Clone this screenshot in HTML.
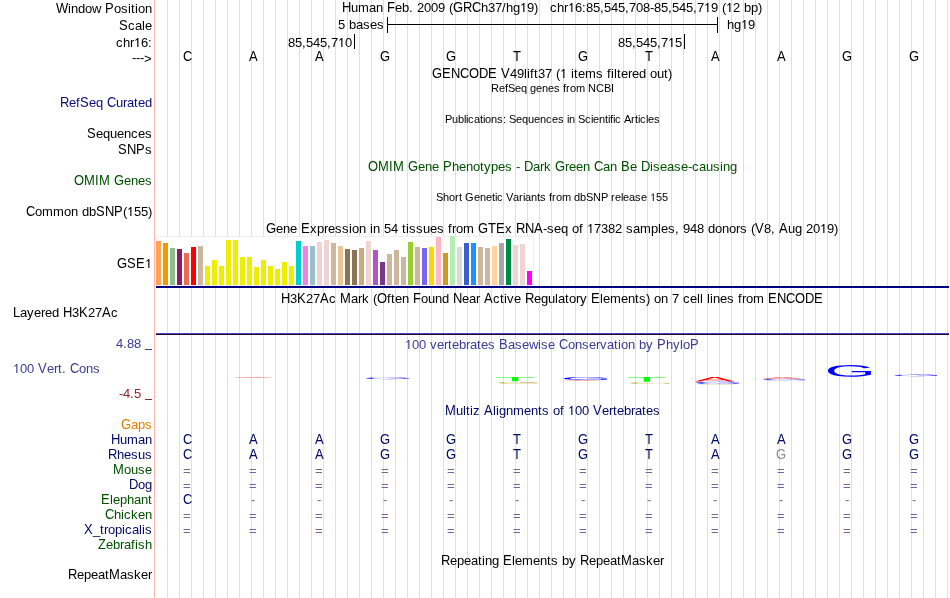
<!DOCTYPE html>
<html><head><meta charset="utf-8"><style>
html,body{margin:0;padding:0;background:#fff;width:950px;height:598px;overflow:hidden}
svg{display:block;will-change:transform}
text{font-family:"Liberation Sans",sans-serif}
</style></head><body>
<svg width="950" height="598" viewBox="0 0 950 598">
<rect width="950" height="598" fill="#fff"/>
<g fill="#dcdcff"><rect x="167" y="0" width="1" height="598"/><rect x="179" y="0" width="1" height="598"/><rect x="191" y="0" width="1" height="598"/><rect x="203" y="0" width="1" height="598"/><rect x="215" y="0" width="1" height="598"/><rect x="227" y="0" width="1" height="598"/><rect x="239" y="0" width="1" height="598"/><rect x="251" y="0" width="1" height="598"/><rect x="263" y="0" width="1" height="598"/><rect x="275" y="0" width="1" height="598"/><rect x="287" y="0" width="1" height="598"/><rect x="299" y="0" width="1" height="598"/><rect x="311" y="0" width="1" height="598"/><rect x="323" y="0" width="1" height="598"/><rect x="335" y="0" width="1" height="598"/><rect x="347" y="0" width="1" height="598"/><rect x="359" y="0" width="1" height="598"/><rect x="371" y="0" width="1" height="598"/><rect x="383" y="0" width="1" height="598"/><rect x="395" y="0" width="1" height="598"/><rect x="407" y="0" width="1" height="598"/><rect x="419" y="0" width="1" height="598"/><rect x="431" y="0" width="1" height="598"/><rect x="443" y="0" width="1" height="598"/><rect x="455" y="0" width="1" height="598"/><rect x="467" y="0" width="1" height="598"/><rect x="479" y="0" width="1" height="598"/><rect x="491" y="0" width="1" height="598"/><rect x="503" y="0" width="1" height="598"/><rect x="515" y="0" width="1" height="598"/><rect x="527" y="0" width="1" height="598"/><rect x="539" y="0" width="1" height="598"/><rect x="551" y="0" width="1" height="598"/><rect x="563" y="0" width="1" height="598"/><rect x="575" y="0" width="1" height="598"/><rect x="587" y="0" width="1" height="598"/><rect x="599" y="0" width="1" height="598"/><rect x="611" y="0" width="1" height="598"/><rect x="623" y="0" width="1" height="598"/><rect x="635" y="0" width="1" height="598"/><rect x="647" y="0" width="1" height="598"/><rect x="659" y="0" width="1" height="598"/><rect x="671" y="0" width="1" height="598"/><rect x="683" y="0" width="1" height="598"/><rect x="695" y="0" width="1" height="598"/><rect x="707" y="0" width="1" height="598"/><rect x="719" y="0" width="1" height="598"/><rect x="731" y="0" width="1" height="598"/><rect x="743" y="0" width="1" height="598"/><rect x="755" y="0" width="1" height="598"/><rect x="767" y="0" width="1" height="598"/><rect x="779" y="0" width="1" height="598"/><rect x="791" y="0" width="1" height="598"/><rect x="803" y="0" width="1" height="598"/><rect x="815" y="0" width="1" height="598"/><rect x="827" y="0" width="1" height="598"/><rect x="839" y="0" width="1" height="598"/><rect x="851" y="0" width="1" height="598"/><rect x="863" y="0" width="1" height="598"/><rect x="875" y="0" width="1" height="598"/><rect x="887" y="0" width="1" height="598"/><rect x="899" y="0" width="1" height="598"/><rect x="911" y="0" width="1" height="598"/><rect x="923" y="0" width="1" height="598"/><rect x="935" y="0" width="1" height="598"/><rect x="947" y="0" width="1" height="598"/></g>
<rect x="154" y="0" width="1" height="598" fill="#ffb4b4"/>
<text x="68 71 78 85 92 101 114 121 128 131 135 138 145" y="13" fill="#000" font-size="13">indow&#160;osition</text><text transform="scale(0.928571,1)" x="60.308 113.077" y="13" fill="#000" font-size="14">WP</text>
<text x="128 135 142 145" y="30" fill="#000" font-size="13">cale</text><text transform="scale(0.928571,1)" x="128.154" y="30" fill="#000" font-size="14">S</text>
<text x="116 123 130 141 148" y="47" fill="#000" font-size="13">chr6:</text><path transform="matrix(0.006348 0 0 -0.006348 134 47)" d="M515 0L696 0L696 1409L540 1409C470 1300 330 1180 197 1120L197 980C320 1030 440 1110 515 1190Z" fill="#000"/>
<text x="69 76 89 96 103 116 123 127 134 138 145" y="107" fill="#0c0c78" font-size="13">efeq&#160;urated</text><text transform="scale(0.928571,1)" x="64.615 86.154 115.231" y="107" fill="#0c0c78" font-size="14">RSC</text>
<text x="96 103 110 117 124 131 138 145" y="138" fill="#000" font-size="13">equences</text><text transform="scale(0.928571,1)" x="93.692" y="138" fill="#000" font-size="14">S</text>
<text x="145" y="154" fill="#000" font-size="13">s</text><text transform="scale(0.928571,1)" x="127.077 136.769 146.462" y="154" fill="#000" font-size="14">SNP</text>
<text x="110 124 131 138 145" y="185" fill="#005000" font-size="13">&#160;enes</text><text transform="scale(0.928571,1)" x="79.692 90.462 102.308 106.615 122.769" y="185" fill="#005000" font-size="14">OMIMG</text>
<text x="35 42 53 64 71 78 82 89 123 134 141 148" y="216" fill="#000" font-size="13">ommon&#160;db(55)</text><text transform="scale(0.928571,1)" x="28 103.385 113.077 122.769" y="216" fill="#000" font-size="14">CSNP</text><path transform="matrix(0.006348 0 0 -0.006348 127 216)" d="M515 0L696 0L696 1409L540 1409C470 1300 330 1180 197 1120L197 980C320 1030 440 1110 515 1190Z" fill="#000"/>
<text transform="scale(0.928571,1)" x="126 136.769 146.462" y="268" fill="#000" font-size="14">GSE</text><path transform="matrix(0.006348 0 0 -0.006348 145 268)" d="M515 0L696 0L696 1409L540 1409C470 1300 330 1180 197 1120L197 980C320 1030 440 1110 515 1190Z" fill="#000"/>
<text x="116 123 127 134 141" y="348" fill="#3c3c96" font-size="13">4.88&#160;</text>
<rect x="145" y="349" width="7" height="1" fill="#3c3c96"/>
<text x="119 123 130 134 141" y="398" fill="#8c2828" font-size="13">-4.5&#160;</text>
<rect x="145" y="399" width="7" height="1" fill="#8c2828"/>
<text x="131 138 145" y="429" fill="#e08000" font-size="13">aps</text><text transform="scale(0.928571,1)" x="130.308" y="429" fill="#e08000" font-size="14">G</text>
<text x="120 127 138 145" y="444" fill="#000a64" font-size="13">uman</text><text transform="scale(0.928571,1)" x="119.538" y="444" fill="#000a64" font-size="14">H</text>
<text x="117 124 131 138 145" y="459" fill="#000a64" font-size="13">hesus</text><text transform="scale(0.928571,1)" x="116.308" y="459" fill="#000a64" font-size="14">R</text>
<text x="124 131 138 145" y="474" fill="#005000" font-size="13">ouse</text><text transform="scale(0.928571,1)" x="121.692" y="474" fill="#005000" font-size="14">M</text>
<text x="138 145" y="489" fill="#000a64" font-size="13">og</text><text transform="scale(0.928571,1)" x="138.923" y="489" fill="#000a64" font-size="14">D</text>
<text x="110 113 120 127 134 141 148" y="504" fill="#005000" font-size="13">lephant</text><text transform="scale(0.928571,1)" x="108.769" y="504" fill="#005000" font-size="14">E</text>
<text x="114 121 124 131 138 145" y="519" fill="#005000" font-size="13">hicken</text><text transform="scale(0.928571,1)" x="113.077" y="519" fill="#005000" font-size="14">C</text>
<text x="93 100 104 108 115 122 125 132 139 142 145" y="534" fill="#000a64" font-size="13">_tropicalis</text><text transform="scale(0.928571,1)" x="90.462" y="534" fill="#000a64" font-size="14">X</text>
<text x="106 113 120 124 131 135 138 145" y="549" fill="#005000" font-size="13">ebrafish</text><text transform="scale(0.928571,1)" x="105.538" y="549" fill="#005000" font-size="14">Z</text>
<text x="77 84 91 98 105 120 127 134 141 148" y="579" fill="#000" font-size="13">epeatasker</text><text transform="scale(0.928571,1)" x="73.231 117.385" y="579" fill="#000" font-size="14">RM</text>
<text x="132 136 140" y="62" fill="#000" font-size="13">---</text>
<text x="144" y="63" fill="#000" font-size="13">&gt;</text>
<text x="20 27 34 41 45 52 59 72 88 95 111" y="317" fill="#000" font-size="13">ayered&#160;327c</text><text transform="scale(0.928571,1)" x="14 67.846 85.077 109.846" y="317" fill="#000" font-size="14">LHKA</text>
<text x="20 27 34 47 54 58 62 66 79 86 93" y="373" fill="#3c3c96" font-size="13">00&#160;ert.&#160;ons</text><text transform="scale(0.928571,1)" x="40.923 75.385" y="373" fill="#3c3c96" font-size="14">VC</text><path transform="matrix(0.006348 0 0 -0.006348 13 373)" d="M515 0L696 0L696 1409L540 1409C470 1300 330 1180 197 1120L197 980C320 1030 440 1110 515 1190Z" fill="#3c3c96"/>
<text x="351 358 369 376 383 395 402 409 413 417 424 431 438 445 449 481 488 495 502 506 513 527 534 538 542 546 550 557 564 575 582 586 593 600 604 611 618 625 629 636 643 650 654 661 668 672 679 686 693 697 711 718 722 733 740 744 751 758" y="12" fill="#000" font-size="13">uman&#160;eb.&#160;2009&#160;(h37/hg9)&#160;&#160;&#160;chr6:85,545,708-85,545,79&#160;(2&#160;bp)</text><text transform="scale(0.928571,1)" x="368.308 416.769 487.846 498.615 508.308" y="12" fill="#000" font-size="14">HFGRC</text><path transform="matrix(0.006348 0 0 -0.006348 520 12)" d="M515 0L696 0L696 1409L540 1409C470 1300 330 1180 197 1120L197 980C320 1030 440 1110 515 1190Z" fill="#000"/><path transform="matrix(0.006348 0 0 -0.006348 568 12)" d="M515 0L696 0L696 1409L540 1409C470 1300 330 1180 197 1120L197 980C320 1030 440 1110 515 1190Z" fill="#000"/><path transform="matrix(0.006348 0 0 -0.006348 704 12)" d="M515 0L696 0L696 1409L540 1409C470 1300 330 1180 197 1120L197 980C320 1030 440 1110 515 1190Z" fill="#000"/><path transform="matrix(0.006348 0 0 -0.006348 726 12)" d="M515 0L696 0L696 1409L540 1409C470 1300 330 1180 197 1120L197 980C320 1030 440 1110 515 1190Z" fill="#000"/>
<text x="338 345 349 356 363 370 377" y="29" fill="#000" font-size="13">5&#160;bases</text>
<text x="727 734 748" y="29" fill="#000" font-size="13">hg9</text><path transform="matrix(0.006348 0 0 -0.006348 741 29)" d="M515 0L696 0L696 1409L540 1409C470 1300 330 1180 197 1120L197 980C320 1030 440 1110 515 1190Z" fill="#000"/>
<text x="288 295 302 306 313 320 327 331 345" y="47" fill="#000" font-size="13">85,545,70</text><path transform="matrix(0.006348 0 0 -0.006348 338 47)" d="M515 0L696 0L696 1409L540 1409C470 1300 330 1180 197 1120L197 980C320 1030 440 1110 515 1190Z" fill="#000"/>
<text x="618 625 632 636 643 650 657 661 675" y="47" fill="#000" font-size="13">85,545,75</text><path transform="matrix(0.006348 0 0 -0.006348 668 47)" d="M515 0L696 0L696 1409L540 1409C470 1300 330 1180 197 1120L197 980C320 1030 440 1110 515 1190Z" fill="#000"/>
<g fill="#000"><rect x="387" y="24" width="331" height="1"/><rect x="387" y="17" width="1" height="16"/><rect x="717" y="17" width="1" height="16"/><rect x="354" y="34" width="1" height="15"/><rect x="684" y="34" width="1" height="15"/></g>
<text transform="scale(0.928571,1)" x="197.077" y="61" fill="#000" font-size="14">C</text><text transform="scale(0.928571,1)" x="268.154" y="61" fill="#000" font-size="14">A</text><text transform="scale(0.928571,1)" x="339.231" y="61" fill="#000" font-size="14">A</text><text transform="scale(0.928571,1)" x="409.231" y="61" fill="#000" font-size="14">G</text><text transform="scale(0.928571,1)" x="480.308" y="61" fill="#000" font-size="14">G</text><text transform="scale(0.928571,1)" x="552.462" y="61" fill="#000" font-size="14">T</text><text transform="scale(0.928571,1)" x="622.462" y="61" fill="#000" font-size="14">G</text><text transform="scale(0.928571,1)" x="694.615" y="61" fill="#000" font-size="14">T</text><text transform="scale(0.928571,1)" x="765.692" y="61" fill="#000" font-size="14">A</text><text transform="scale(0.928571,1)" x="836.769" y="61" fill="#000" font-size="14">A</text><text transform="scale(0.928571,1)" x="906.769" y="61" fill="#000" font-size="14">G</text><text transform="scale(0.928571,1)" x="978.923" y="61" fill="#000" font-size="14">G</text>
<text x="497 510 517 524 527 530 534 538 545 552 556 567 571 574 578 585 596 603 607 611 614 617 621 628 632 639 646 650 657 664 668" y="78" fill="#000" font-size="13">&#160;49lift37&#160;(&#160;items&#160;filtered&#160;out)</text><text transform="scale(0.928571,1)" x="465.231 476 485.692 495.385 505.077 515.846 525.538 539.538" y="78" fill="#000" font-size="14">GENCODEV</text><path transform="matrix(0.006348 0 0 -0.006348 560 78)" d="M515 0L696 0L696 1409L540 1409C470 1300 330 1180 197 1120L197 980C320 1030 440 1110 515 1190Z" fill="#000"/>
<text x="491 499 505 508 515 521 527 530 536 542 548 554 560 563 566 570 576 585 588 596 604 611" y="92" fill="#000" font-size="11">RefSeq&#160;genes&#160;from&#160;NCBI</text>
<text x="445 452 458 464 466 468 474 480 483 485 491 497 503 506 509 516 522 528 534 540 546 552 558 564 567 569 575 578 585 591 593 599 605 608 610 613 615 621 624 631 635 638 640 646 648 654" y="123" fill="#000" font-size="11">Publications:&#160;Sequences&#160;in&#160;Scientific&#160;Articles</text>
<text x="404 418 425 432 439 452 459 466 473 480 484 491 498 505 512 516 520 533 540 544 551 565 569 576 583 590 603 610 617 630 637 650 653 660 667 674 681 688 692 699 706 713 720 723 730" y="171" fill="#005000" font-size="13">&#160;ene&#160;henotypes&#160;-&#160;ark&#160;reen&#160;an&#160;e&#160;isease-causing</text><text transform="scale(0.928571,1)" x="396.308 407.077 418.923 423.231 439.385 477.077 564.308 597.692 639.692 668.769 690.308" y="171" fill="#005000" font-size="14">OMIMGPDGCBD</text>
<text x="436 443 449 455 459 462 465 474 480 486 492 495 497 503 506 513 519 523 525 531 537 540 546 549 552 556 562 571 574 580 586 593 601 608 611 615 621 623 629 635 641 647 656 662" y="201" fill="#000" font-size="11">Short&#160;Genetic&#160;Variants&#160;from&#160;dbSNP&#160;release&#160;55</text><path transform="matrix(0.005371 0 0 -0.005371 650 201)" d="M515 0L696 0L696 1409L540 1409C470 1300 330 1180 197 1120L197 980C320 1030 440 1110 515 1190Z" fill="#000"/>
<text x="276 283 290 297 310 317 324 328 335 342 349 352 359 366 370 373 380 384 391 398 402 406 409 416 423 430 437 444 448 452 456 463 474 505 512 543 547 554 561 568 572 579 583 594 601 608 615 622 626 633 640 651 658 661 668 675 679 683 690 697 704 708 715 722 729 736 740 747 751 764 771 775 788 795 802 806 813 827 834" y="233" fill="#000" font-size="13">ene&#160;xpression&#160;in&#160;54&#160;tissues&#160;from&#160;x&#160;-seq&#160;of&#160;7382&#160;samples,&#160;948&#160;donors&#160;(8,&#160;ug&#160;209)</text><text transform="scale(0.928571,1)" x="286.462 324.154 514.769 525.538 534.154 555.692 565.385 575.077 813.077 838.923" y="233" fill="#000" font-size="14">GEGTERNAVA</text><path transform="matrix(0.006348 0 0 -0.006348 587 233)" d="M515 0L696 0L696 1409L540 1409C470 1300 330 1180 197 1120L197 980C320 1030 440 1110 515 1190Z" fill="#000"/><path transform="matrix(0.006348 0 0 -0.006348 820 233)" d="M515 0L696 0L696 1409L540 1409C470 1300 330 1180 197 1120L197 980C320 1030 440 1110 515 1190Z" fill="#000"/>
<rect x="156.5" y="236.5" width="377" height="49" fill="#fff" stroke="#efefef" stroke-width="1"/>
<g><rect x="156" y="241" width="5" height="44" fill="#FFA54F"/><rect x="163" y="243" width="5" height="42" fill="#EE9A00"/><rect x="170" y="248" width="5" height="37" fill="#8FBC8F"/><rect x="177" y="249" width="5" height="36" fill="#8B1C62"/><rect x="184" y="253" width="5" height="32" fill="#EE6A50"/><rect x="191" y="247" width="5" height="38" fill="#FF0000"/><rect x="198" y="246" width="5" height="39" fill="#CDB79E"/><rect x="205" y="266" width="5" height="19" fill="#EEEE00"/><rect x="212" y="260" width="5" height="25" fill="#EEEE00"/><rect x="219" y="266" width="5" height="19" fill="#EEEE00"/><rect x="226" y="240" width="5" height="45" fill="#EEEE00"/><rect x="233" y="240" width="5" height="45" fill="#EEEE00"/><rect x="240" y="257" width="5" height="28" fill="#EEEE00"/><rect x="247" y="257" width="5" height="28" fill="#EEEE00"/><rect x="254" y="267" width="5" height="18" fill="#EEEE00"/><rect x="261" y="260" width="5" height="25" fill="#EEEE00"/><rect x="268" y="266" width="5" height="19" fill="#EEEE00"/><rect x="275" y="269" width="5" height="16" fill="#EEEE00"/><rect x="282" y="262" width="5" height="23" fill="#EEEE00"/><rect x="289" y="266" width="5" height="19" fill="#EEEE00"/><rect x="296" y="241" width="5" height="44" fill="#00CDCD"/><rect x="303" y="246" width="5" height="39" fill="#EE82EE"/><rect x="310" y="246" width="5" height="39" fill="#9AC0CD"/><rect x="317" y="242" width="5" height="43" fill="#EED5D2"/><rect x="324" y="240" width="5" height="45" fill="#EED5D2"/><rect x="331" y="243" width="5" height="42" fill="#CDB79E"/><rect x="338" y="246" width="5" height="39" fill="#EEC591"/><rect x="345" y="249" width="5" height="36" fill="#8B7355"/><rect x="352" y="250" width="5" height="35" fill="#8B7355"/><rect x="359" y="248" width="5" height="37" fill="#CDAA7D"/><rect x="366" y="241" width="5" height="44" fill="#EED5D2"/><rect x="373" y="250" width="5" height="35" fill="#B452CD"/><rect x="380" y="262" width="5" height="23" fill="#7A378B"/><rect x="387" y="254" width="5" height="31" fill="#CDB79E"/><rect x="394" y="250" width="5" height="35" fill="#CDB79E"/><rect x="401" y="257" width="5" height="28" fill="#CDB79E"/><rect x="408" y="242" width="5" height="43" fill="#9ACD32"/><rect x="415" y="247" width="5" height="38" fill="#CDB79E"/><rect x="422" y="248" width="5" height="37" fill="#7A67EE"/><rect x="429" y="247" width="5" height="38" fill="#FFD700"/><rect x="436" y="237" width="5" height="48" fill="#FFB6C1"/><rect x="443" y="253" width="5" height="32" fill="#CD9B1D"/><rect x="450" y="236" width="5" height="49" fill="#B4EEB4"/><rect x="457" y="247" width="5" height="38" fill="#D9D9D9"/><rect x="464" y="243" width="5" height="42" fill="#3A5FCD"/><rect x="471" y="243" width="5" height="42" fill="#1E90FF"/><rect x="478" y="247" width="5" height="38" fill="#CDB79E"/><rect x="485" y="248" width="5" height="37" fill="#CDB79E"/><rect x="492" y="246" width="5" height="39" fill="#FFD39B"/><rect x="499" y="243" width="5" height="42" fill="#A6A6A6"/><rect x="506" y="239" width="5" height="46" fill="#008B45"/><rect x="513" y="245" width="5" height="40" fill="#EED5D2"/><rect x="520" y="244" width="5" height="41" fill="#EED5D2"/><rect x="527" y="271" width="5" height="14" fill="#FF00FF"/></g>
<rect x="156" y="286" width="793" height="2" fill="#000080"/>
<text x="290 306 313 329 336 351 358 362 369 373 387 391 395 402 409 421 428 435 442 449 462 469 476 480 493 500 504 507 514 521 534 541 548 555 558 565 569 576 580 587 600 603 610 621 628 635 639 646 650 654 661 668 672 679 683 690 697 700 703 707 710 713 720 727 734 738 742 746 753 764" y="303" fill="#000" font-size="13">327c&#160;ark&#160;(ften&#160;ound&#160;ear&#160;ctive&#160;egulatory&#160;lements)&#160;on&#160;7&#160;cell&#160;lines&#160;from&#160;</text><text transform="scale(0.928571,1)" x="302.615 319.846 344.615 366.154 406 444.769 487.846 521.231 565.385 636.462 827.077 836.769 846.462 856.154 866.923 876.615" y="303" fill="#000" font-size="14">HKAMOFNAREENCODE</text>
<rect x="156" y="333" width="793" height="1" fill="#4848c8"/><rect x="156" y="334" width="793" height="1" fill="#280828"/>
<text x="412 419 426 430 437 444 448 452 459 466 470 477 481 488 495 508 515 522 529 538 541 548 555 568 575 582 589 596 600 607 614 618 621 628 635 639 646 653 666 673 680 683" y="349" fill="#3c3c96" font-size="13">00&#160;vertebrates&#160;asewise&#160;onservation&#160;by&#160;hylo</text><text transform="scale(0.928571,1)" x="537.385 602 707.538 743.077" y="349" fill="#3c3c96" font-size="14">BCPP</text><path transform="matrix(0.006348 0 0 -0.006348 405 349)" d="M515 0L696 0L696 1409L540 1409C470 1300 330 1180 197 1120L197 980C320 1030 440 1110 515 1190Z" fill="#3c3c96"/>
<path transform="matrix(0.02982 0 0 -0.00071 232.381 378.000)" d="M1167 0 1006 412H364L202 0H4L579 1409H796L1362 0ZM685 1265 676 1237Q651 1154 602 1024L422 561H949L768 1026Q740 1095 712 1182Z" fill="#ff0000" opacity="0.7"/><path transform="matrix(0.03216 0 0 -0.00138 362.687 379.172)" d="M103 711Q103 1054 287.0 1242.0Q471 1430 804 1430Q1038 1430 1184.0 1351.0Q1330 1272 1409 1098L1227 1044Q1167 1164 1061.5 1219.0Q956 1274 799 1274Q555 1274 426.0 1126.5Q297 979 297 711Q297 444 434.0 289.5Q571 135 813 135Q951 135 1070.5 177.0Q1190 219 1264 291V545H843V705H1440V219Q1328 105 1165.5 42.5Q1003 -20 813 -20Q592 -20 432.0 68.0Q272 156 187.5 321.5Q103 487 103 711Z" fill="#0000ff" opacity="0.8"/><path transform="matrix(0.03282 0 0 -0.00305 494.491 381.300)" d="M720 1253V0H530V1253H46V1409H1204V1253Z" fill="#00ff00"/><path transform="matrix(0.02992 0 0 -0.00103 494.918 383.479)" d="M103 711Q103 1054 287.0 1242.0Q471 1430 804 1430Q1038 1430 1184.0 1351.0Q1330 1272 1409 1098L1227 1044Q1167 1164 1061.5 1219.0Q956 1274 799 1274Q555 1274 426.0 1126.5Q297 979 297 711Q297 444 434.0 289.5Q571 135 813 135Q951 135 1070.5 177.0Q1190 219 1264 291V545H843V705H1440V219Q1328 105 1165.5 42.5Q1003 -20 813 -20Q592 -20 432.0 68.0Q272 156 187.5 321.5Q103 487 103 711Z" fill="#a89a10" opacity="0.85"/><path transform="matrix(0.03231 0 0 -0.00207 560.472 379.959)" d="M103 711Q103 1054 287.0 1242.0Q471 1430 804 1430Q1038 1430 1184.0 1351.0Q1330 1272 1409 1098L1227 1044Q1167 1164 1061.5 1219.0Q956 1274 799 1274Q555 1274 426.0 1126.5Q297 979 297 711Q297 444 434.0 289.5Q571 135 813 135Q951 135 1070.5 177.0Q1190 219 1264 291V545H843V705H1440V219Q1328 105 1165.5 42.5Q1003 -20 813 -20Q592 -20 432.0 68.0Q272 156 187.5 321.5Q103 487 103 711Z" fill="#0000ff"/><path transform="matrix(0.02872 0 0 -0.00071 562.885 381.000)" d="M1167 0 1006 412H364L202 0H4L579 1409H796L1362 0ZM685 1265 676 1237Q651 1154 602 1024L422 561H949L768 1026Q740 1095 712 1182Z" fill="#ff0000" opacity="0.6"/><path transform="matrix(0.03247 0 0 -0.00341 626.506 381.800)" d="M720 1253V0H530V1253H46V1409H1204V1253Z" fill="#00ff00"/><path transform="matrix(0.02954 0 0 -0.00103 627.457 383.879)" d="M103 711Q103 1054 287.0 1242.0Q471 1430 804 1430Q1038 1430 1184.0 1351.0Q1330 1272 1409 1098L1227 1044Q1167 1164 1061.5 1219.0Q956 1274 799 1274Q555 1274 426.0 1126.5Q297 979 297 711Q297 444 434.0 289.5Q571 135 813 135Q951 135 1070.5 177.0Q1190 219 1264 291V545H843V705H1440V219Q1328 105 1165.5 42.5Q1003 -20 813 -20Q592 -20 432.0 68.0Q272 156 187.5 321.5Q103 487 103 711Z" fill="#a89a10" opacity="0.85"/><path transform="matrix(0.02946 0 0 -0.00319 694.482 381.600)" d="M1167 0 1006 412H364L202 0H4L579 1409H796L1362 0ZM685 1265 676 1237Q651 1154 602 1024L422 561H949L768 1026Q740 1095 712 1182Z" fill="#ff0000"/><path transform="matrix(0.03216 0 0 -0.00159 692.687 383.968)" d="M103 711Q103 1054 287.0 1242.0Q471 1430 804 1430Q1038 1430 1184.0 1351.0Q1330 1272 1409 1098L1227 1044Q1167 1164 1061.5 1219.0Q956 1274 799 1274Q555 1274 426.0 1126.5Q297 979 297 711Q297 444 434.0 289.5Q571 135 813 135Q951 135 1070.5 177.0Q1190 219 1264 291V545H843V705H1440V219Q1328 105 1165.5 42.5Q1003 -20 813 -20Q592 -20 432.0 68.0Q272 156 187.5 321.5Q103 487 103 711Z" fill="#0000ff" opacity="0.8"/><path transform="matrix(0.02842 0 0 -0.00069 694.073 384.986)" d="M103 711Q103 1054 287.0 1242.0Q471 1430 804 1430Q1038 1430 1184.0 1351.0Q1330 1272 1409 1098L1227 1044Q1167 1164 1061.5 1219.0Q956 1274 799 1274Q555 1274 426.0 1126.5Q297 979 297 711Q297 444 434.0 289.5Q571 135 813 135Q951 135 1070.5 177.0Q1190 219 1264 291V545H843V705H1440V219Q1328 105 1165.5 42.5Q1003 -20 813 -20Q592 -20 432.0 68.0Q272 156 187.5 321.5Q103 487 103 711Z" fill="#a89a10" opacity="0.4"/><path transform="matrix(0.03019 0 0 -0.00142 761.479 379.000)" d="M1167 0 1006 412H364L202 0H4L579 1409H796L1362 0ZM685 1265 676 1237Q651 1154 602 1024L422 561H949L768 1026Q740 1095 712 1182Z" fill="#ff0000" opacity="0.7"/><path transform="matrix(0.03141 0 0 -0.00110 759.764 380.378)" d="M103 711Q103 1054 287.0 1242.0Q471 1430 804 1430Q1038 1430 1184.0 1351.0Q1330 1272 1409 1098L1227 1044Q1167 1164 1061.5 1219.0Q956 1274 799 1274Q555 1274 426.0 1126.5Q297 979 297 711Q297 444 434.0 289.5Q571 135 813 135Q951 135 1070.5 177.0Q1190 219 1264 291V545H843V705H1440V219Q1328 105 1165.5 42.5Q1003 -20 813 -20Q592 -20 432.0 68.0Q272 156 187.5 321.5Q103 487 103 711Z" fill="#0000ff" opacity="0.7"/><path transform="matrix(0.03216 0 0 -0.00814 824.587 376.637)" d="M103 711Q103 1054 287.0 1242.0Q471 1430 804 1430Q1038 1430 1184.0 1351.0Q1330 1272 1409 1098L1227 1044Q1167 1164 1061.5 1219.0Q956 1274 799 1274Q555 1274 426.0 1126.5Q297 979 297 711Q297 444 434.0 289.5Q571 135 813 135Q951 135 1070.5 177.0Q1190 219 1264 291V545H843V705H1440V219Q1328 105 1165.5 42.5Q1003 -20 813 -20Q592 -20 432.0 68.0Q272 156 187.5 321.5Q103 487 103 711Z" fill="#0000ff"/><path transform="matrix(0.03216 0 0 -0.00124 890.687 376.175)" d="M103 711Q103 1054 287.0 1242.0Q471 1430 804 1430Q1038 1430 1184.0 1351.0Q1330 1272 1409 1098L1227 1044Q1167 1164 1061.5 1219.0Q956 1274 799 1274Q555 1274 426.0 1126.5Q297 979 297 711Q297 444 434.0 289.5Q571 135 813 135Q951 135 1070.5 177.0Q1190 219 1264 291V545H843V705H1440V219Q1328 105 1165.5 42.5Q1003 -20 813 -20Q592 -20 432.0 68.0Q272 156 187.5 321.5Q103 487 103 711Z" fill="#0000ff" opacity="0.8"/>
<text x="456 463 466 470 473 480 493 496 499 506 513 524 531 538 542 549 553 560 564 575 582 589 602 609 613 617 624 631 635 642 646 653" y="415" fill="#000a64" font-size="13">ultiz&#160;lignments&#160;of&#160;00&#160;ertebrates</text><text transform="scale(0.928571,1)" x="479.231 521.231 638.615" y="415" fill="#000a64" font-size="14">MAV</text><path transform="matrix(0.006348 0 0 -0.006348 568 415)" d="M515 0L696 0L696 1409L540 1409C470 1300 330 1180 197 1120L197 980C320 1030 440 1110 515 1190Z" fill="#000a64"/>
<text transform="scale(0.928571,1)" x="197.077" y="444" fill="#000a64" font-size="14">C</text><text transform="scale(0.928571,1)" x="268.154" y="444" fill="#000a64" font-size="14">A</text><text transform="scale(0.928571,1)" x="339.231" y="444" fill="#000a64" font-size="14">A</text><text transform="scale(0.928571,1)" x="409.231" y="444" fill="#000a64" font-size="14">G</text><text transform="scale(0.928571,1)" x="480.308" y="444" fill="#000a64" font-size="14">G</text><text transform="scale(0.928571,1)" x="552.462" y="444" fill="#000a64" font-size="14">T</text><text transform="scale(0.928571,1)" x="622.462" y="444" fill="#000a64" font-size="14">G</text><text transform="scale(0.928571,1)" x="694.615" y="444" fill="#000a64" font-size="14">T</text><text transform="scale(0.928571,1)" x="765.692" y="444" fill="#000a64" font-size="14">A</text><text transform="scale(0.928571,1)" x="836.769" y="444" fill="#000a64" font-size="14">A</text><text transform="scale(0.928571,1)" x="906.769" y="444" fill="#000a64" font-size="14">G</text><text transform="scale(0.928571,1)" x="978.923" y="444" fill="#000a64" font-size="14">G</text>
<text transform="scale(0.928571,1)" x="197.077" y="459" fill="#000a64" font-size="14">C</text><text transform="scale(0.928571,1)" x="268.154" y="459" fill="#000a64" font-size="14">A</text><text transform="scale(0.928571,1)" x="339.231" y="459" fill="#000a64" font-size="14">A</text><text transform="scale(0.928571,1)" x="409.231" y="459" fill="#000a64" font-size="14">G</text><text transform="scale(0.928571,1)" x="480.308" y="459" fill="#000a64" font-size="14">G</text><text transform="scale(0.928571,1)" x="552.462" y="459" fill="#000a64" font-size="14">T</text><text transform="scale(0.928571,1)" x="622.462" y="459" fill="#000a64" font-size="14">G</text><text transform="scale(0.928571,1)" x="694.615" y="459" fill="#000a64" font-size="14">T</text><text transform="scale(0.928571,1)" x="765.692" y="459" fill="#000a64" font-size="14">A</text><text transform="scale(0.928571,1)" x="835.692" y="459" fill="#8c8ca0" font-size="14">G</text><text transform="scale(0.928571,1)" x="906.769" y="459" fill="#000a64" font-size="14">G</text><text transform="scale(0.928571,1)" x="978.923" y="459" fill="#000a64" font-size="14">G</text>
<text x="183" y="475" fill="#6a6aa0" font-size="13">=</text><text x="249" y="475" fill="#6a6aa0" font-size="13">=</text><text x="315" y="475" fill="#6a6aa0" font-size="13">=</text><text x="381" y="475" fill="#6a6aa0" font-size="13">=</text><text x="447" y="475" fill="#6a6aa0" font-size="13">=</text><text x="513" y="475" fill="#6a6aa0" font-size="13">=</text><text x="579" y="475" fill="#6a6aa0" font-size="13">=</text><text x="645" y="475" fill="#6a6aa0" font-size="13">=</text><text x="711" y="475" fill="#6a6aa0" font-size="13">=</text><text x="777" y="475" fill="#6a6aa0" font-size="13">=</text><text x="843" y="475" fill="#6a6aa0" font-size="13">=</text><text x="910" y="475" fill="#6a6aa0" font-size="13">=</text>
<text x="183" y="490" fill="#6a6aa0" font-size="13">=</text><text x="249" y="490" fill="#6a6aa0" font-size="13">=</text><text x="315" y="490" fill="#6a6aa0" font-size="13">=</text><text x="381" y="490" fill="#6a6aa0" font-size="13">=</text><text x="447" y="490" fill="#6a6aa0" font-size="13">=</text><text x="513" y="490" fill="#6a6aa0" font-size="13">=</text><text x="579" y="490" fill="#6a6aa0" font-size="13">=</text><text x="645" y="490" fill="#6a6aa0" font-size="13">=</text><text x="711" y="490" fill="#6a6aa0" font-size="13">=</text><text x="777" y="490" fill="#6a6aa0" font-size="13">=</text><text x="843" y="490" fill="#6a6aa0" font-size="13">=</text><text x="910" y="490" fill="#6a6aa0" font-size="13">=</text>
<text transform="scale(0.928571,1)" x="197.077" y="504" fill="#000a64" font-size="14">C</text><text x="251" y="504" fill="#6a6aa0" font-size="13">-</text><text x="317" y="504" fill="#6a6aa0" font-size="13">-</text><text x="383" y="504" fill="#6a6aa0" font-size="13">-</text><text x="449" y="504" fill="#6a6aa0" font-size="13">-</text><text x="515" y="504" fill="#6a6aa0" font-size="13">-</text><text x="581" y="504" fill="#6a6aa0" font-size="13">-</text><text x="647" y="504" fill="#6a6aa0" font-size="13">-</text><text x="713" y="504" fill="#6a6aa0" font-size="13">-</text><text x="779" y="504" fill="#6a6aa0" font-size="13">-</text><text x="845" y="504" fill="#6a6aa0" font-size="13">-</text><text x="912" y="504" fill="#6a6aa0" font-size="13">-</text>
<text x="183" y="520" fill="#6a6aa0" font-size="13">=</text><text x="249" y="520" fill="#6a6aa0" font-size="13">=</text><text x="315" y="520" fill="#6a6aa0" font-size="13">=</text><text x="381" y="520" fill="#6a6aa0" font-size="13">=</text><text x="447" y="520" fill="#6a6aa0" font-size="13">=</text><text x="513" y="520" fill="#6a6aa0" font-size="13">=</text><text x="579" y="520" fill="#6a6aa0" font-size="13">=</text><text x="645" y="520" fill="#6a6aa0" font-size="13">=</text><text x="711" y="520" fill="#6a6aa0" font-size="13">=</text><text x="777" y="520" fill="#6a6aa0" font-size="13">=</text><text x="843" y="520" fill="#6a6aa0" font-size="13">=</text><text x="910" y="520" fill="#6a6aa0" font-size="13">=</text>
<text x="183" y="535" fill="#6a6aa0" font-size="13">=</text><text x="249" y="535" fill="#6a6aa0" font-size="13">=</text><text x="315" y="535" fill="#6a6aa0" font-size="13">=</text><text x="381" y="535" fill="#6a6aa0" font-size="13">=</text><text x="447" y="535" fill="#6a6aa0" font-size="13">=</text><text x="513" y="535" fill="#6a6aa0" font-size="13">=</text><text x="579" y="535" fill="#6a6aa0" font-size="13">=</text><text x="645" y="535" fill="#6a6aa0" font-size="13">=</text><text x="711" y="535" fill="#6a6aa0" font-size="13">=</text><text x="777" y="535" fill="#6a6aa0" font-size="13">=</text><text x="843" y="535" fill="#6a6aa0" font-size="13">=</text><text x="910" y="535" fill="#6a6aa0" font-size="13">=</text>
<text x="450 457 464 471 478 482 485 492 499 512 515 522 533 540 547 551 558 562 569 576 589 596 603 610 617 632 639 646 653 660" y="565" fill="#000" font-size="13">epeating&#160;lements&#160;by&#160;epeatasker</text><text transform="scale(0.928571,1)" x="474.923 541.692 624.615 668.769" y="565" fill="#000" font-size="14">RERM</text>
</svg>
</body></html>
